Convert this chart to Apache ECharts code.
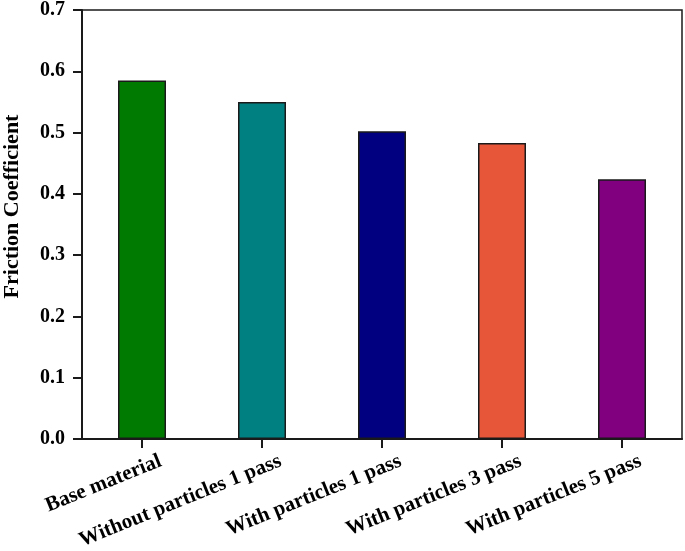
<!DOCTYPE html>
<html>
<head>
<meta charset="utf-8">
<script src="https://cdn.jsdelivr.net/npm/echarts@6/dist/echarts.min.js"></script>
<style>
  html, body { margin: 0; padding: 0; background: #fff; }
  #chart { width: 685px; height: 551px; }
</style>
</head>
<body>
<div id="chart"></div>
<script>
  // 数据
  const categories = ['Base material', 'Without particles 1 pass', 'With particles 1 pass', 'With particles 3 pass', 'With particles 5 pass']
  const values = [0.585, 0.550, 0.502, 0.483, 0.424]
  const barColors = ['#007a00', '#008080', '#000080', '#e8563a', '#800080']
  const yTicks = [0, 0.1, 0.2, 0.3, 0.4, 0.5, 0.6, 0.7]

  const font = 'Liberation Serif'
  const chart = echarts.init(document.getElementById('chart'))

  const option = {
    backgroundColor: '#fff',
    animation: false,
    grid: {
      left: 82, right: 3, top: 10, bottom: 112,
      outerBoundsMode: 'none',
      show: true,
      borderColor: '#1a1a1a',
      borderWidth: 1.5
    },
    xAxis: {
      type: 'category',
      data: categories,
      axisLine: { lineStyle: { color: '#1a1a1a', width: 2 } },
      axisTick: { show: true, alignWithLabel: true, length: 9, lineStyle: { color: '#1a1a1a', width: 2 } },
      axisLabel: {
        interval: 0,
        rotate: 22,
        margin: 29,
        padding: [0, -20, 0, 0],
        color: '#000',
        fontFamily: font,
        fontWeight: 'bold',
        fontSize: 21
      }
    },
    yAxis: {
      type: 'value',
      min: yTicks[0],
      max: yTicks[yTicks.length - 1],
      interval: 0.1,
      name: 'Friction Coefficient',
      nameLocation: 'middle',
      nameGap: 59,
      nameTextStyle: { color: '#000', fontFamily: font, fontWeight: 'bold', fontSize: 22, padding: [0, 0, 0, 36] },
      splitLine: { show: false },
      axisLine: { show: true, lineStyle: { color: '#1a1a1a', width: 2 } },
      axisTick: { show: true, length: 9, lineStyle: { color: '#1a1a1a', width: 2 } },
      axisLabel: {
        margin: 17,
        color: '#000',
        fontFamily: font,
        fontWeight: 'bold',
        fontSize: 20,
        formatter: (v) => v.toFixed(1)
      }
    },
    series: [
      {
        type: 'bar',
        barWidth: '40%',
        data: values.map((v, i) => ({
          value: v,
          itemStyle: { color: barColors[i] }
        })),
        itemStyle: { borderColor: '#1a1a1a', borderWidth: 1.5 }
      }
    ]
  }

  chart.setOption(option)
</script>
</body>
</html>
